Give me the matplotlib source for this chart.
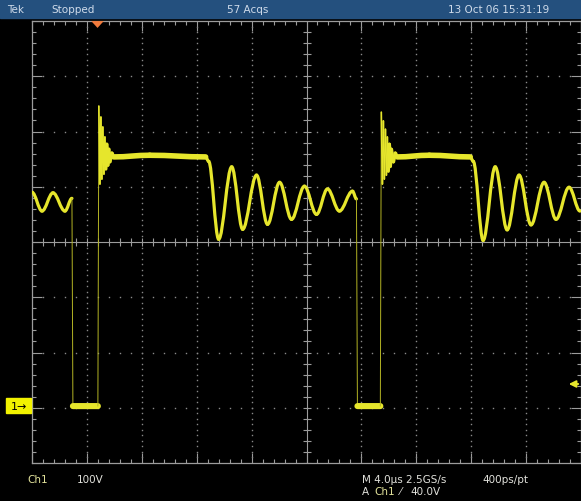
import numpy as np
import matplotlib
matplotlib.use("Agg")
import matplotlib.pyplot as plt
from matplotlib.patches import Rectangle, PathPatch
from matplotlib.path import Path

# --- scope settings ---
time_per_div = 4.0       # us / div
volts_per_div = 100.0    # V / div
n_xdiv, n_ydiv = 10, 8
gnd_offset_div = -2.97   # ch1 ground marker, divisions below centre
trig_time = 4.73         # us from left edge (orange marker)
trig_level = 40.0        # V

# --- ch1 trace vertices (time in us from left edge, volts) ---
t_us = [0.00, 0.73, 1.53, 2.40, 2.91, 2.98, 4.80,
        4.87, 4.95, 5.02, 5.09, 5.16, 5.24, 5.31, 5.38, 5.45, 5.53, 5.60, 5.67, 5.82, 5.96,
        8.58, 12.65, 12.87, 13.60,
        14.55, 15.35, 16.36, 17.16, 18.04, 18.91, 19.85, 20.73, 21.53, 22.40, 23.35, 23.64,
        23.71, 25.38,
        25.45, 25.53, 25.60, 25.67, 25.75, 25.82, 25.89, 25.96, 26.04, 26.11, 26.18, 26.33,
        26.47, 26.62,
        28.95, 31.93, 32.15, 32.87,
        33.75, 34.62, 35.49, 36.36, 37.31, 38.18, 39.13, 39.93]
v_volts = [387, 353, 386, 353, 376, 0, 0,
           543, 402, 523, 411, 505, 420, 487, 429, 474, 436, 465, 442, 458, 451,
           454, 451, 443, 302,
           433, 320, 418, 329, 405, 338, 398, 347, 393, 353, 389, 375,
           0, 0,
           532, 402, 516, 411, 501, 418, 487, 425, 474, 434, 465, 442,
           458, 451,
           454, 451, 443, 300,
           433, 319, 418, 328, 405, 338, 396, 353]

# --- screen readouts ---
top_labels = [("Tek", 7), ("Stopped", 51), ("57 Acqs", 227), ("13 Oct 06 15:31:19", 448)]
ch_label, ch_scale = "Ch1", "100V"
timebase = "M 4.0\u00b5s 2.5GS/s"
rec_len = "400ps/pt"
trig_src, trig_val = "Ch1", "40.0V"

W, H = 581, 502
fonts = ["Liberation Sans Narrow", "DejaVu Sans"]
grid_c = "#9c9c9c"
trace_c = "#e6e62c"
txt_c = "#e2e2dc"

fig = plt.figure(figsize=(W / 100, H / 100), dpi=100, facecolor="black")


def ftxt(px, py, s, color, size=7.5, **kw):
    fig.text(px / W, 1 - py / H, s, color=color, fontsize=size, family=fonts,
             va="center", ha="left", **kw)


# top status bar
fig.add_artist(Rectangle((0, 1 - 19 / H), 1, 19 / H, transform=fig.transFigure,
                         color="#24507e", zorder=0))
for s, px in top_labels:
    ftxt(px, 10, s, "#cfdbea")

ax = fig.add_axes([32 / W, 1 - 464 / H, 549 / W, 442 / H])
ax.set_facecolor("black")
t_max = n_xdiv * time_per_div
v_mid = -gnd_offset_div * volts_per_div
y0 = v_mid - n_ydiv / 2 * volts_per_div
y1 = v_mid + n_ydiv / 2 * volts_per_div
ax.set_xlim(0, t_max)
ax.set_ylim(y0, y1)
vpp = (y1 - y0) / 442.0   # volts per pixel
tpp = t_max / 549.0       # us per pixel

# graticule: dotted division lines
for k in range(1, n_xdiv):
    if k == n_xdiv // 2:
        continue
    yy = np.arange(y0, y1, volts_per_div / 10)
    ax.plot(np.full_like(yy, k * time_per_div), yy, ls="none", marker="s",
            ms=1.0, mew=0, color="#8a8a8a")
for k in range(1, n_ydiv):
    if k == n_ydiv // 2:
        continue
    xx = np.arange(0, t_max, time_per_div / 5)
    ax.plot(xx, np.full_like(xx, y0 + k * volts_per_div), ls="none", marker="s",
            ms=1.0, mew=0, color="#8a8a8a")

# centre cross with small ticks
ax.axhline(v_mid, color=grid_c, lw=0.8)
ax.axvline(t_max / 2, color=grid_c, lw=0.8)
mx = np.arange(0, t_max, time_per_div / 5)
my = np.arange(y0, y1, volts_per_div / 5)
ax.vlines(mx, v_mid - 4 * vpp, v_mid + 4 * vpp, color=grid_c, lw=0.8)
ax.hlines(my, t_max / 2 - 4 * tpp, t_max / 2 + 4 * tpp, color=grid_c, lw=0.8)

# frame ticks
ax.set_xticks(np.arange(0, t_max + 0.01, time_per_div))
ax.set_xticks(np.arange(0, t_max + 0.01, time_per_div / 5), minor=True)
ax.set_yticks(np.arange(y0, y1 + 0.01, volts_per_div))
ax.set_yticks(np.arange(y0, y1 + 0.01, volts_per_div / 5), minor=True)
ax.tick_params(which="both", direction="in", top=True, right=True,
               labelbottom=False, labelleft=False, color=grid_c, width=0.8)
ax.tick_params(which="major", length=7)
ax.tick_params(which="minor", length=3.2)
for sp in ax.spines.values():
    sp.set_color(grid_c)
    sp.set_linewidth(0.9)

# trace: straight thin strokes on fast edges, smooth curves between the
# peaks/troughs of the ringing, thick noise band on the flat parts
t = np.array(t_us)
v = np.array(v_volts, dtype=float)
for i in range(len(t) - 1):
    ta, tb, va, vb = t[i], t[i + 1], v[i], v[i + 1]
    dt = tb - ta
    slope = abs(vb - va) / dt
    if slope > 4000:
        ax.plot([ta, tb], [va, vb], color="#b4b424", lw=0.7, zorder=4,
                solid_capstyle="round")
        continue
    if slope > 800:
        ax.plot([ta, tb], [va, vb], color=trace_c, lw=1.2, zorder=4,
                solid_capstyle="round")
        continue
    if abs(va) < 5 and abs(vb) < 5:
        w = 4.4
    elif dt > 1.0 and va > 440 and vb > 440:
        w = 4.0
    else:
        w = 2.3
    k = 0.36 * dt
    path = Path([(ta, va), (ta + k, va), (tb - k, vb), (tb, vb)],
                [Path.MOVETO, Path.CURVE4, Path.CURVE4, Path.CURVE4])
    ax.add_patch(PathPatch(path, fill=False, edgecolor=trace_c, lw=w,
                           capstyle="round", zorder=4))

# trigger position marker (top) and trigger level arrow (right)
ax.plot([trig_time], [y1 - 2.6 * vpp], marker=[(-1, 0.55), (1, 0.55), (0, -0.55)],
        ms=9, color="#f07a3c", mew=0, clip_on=False, zorder=6)
ax.annotate("", xy=(t_max - 15 * tpp, trig_level), xytext=(t_max, trig_level),
            arrowprops=dict(arrowstyle="-|>", color=trace_c, lw=1.4,
                            mutation_scale=10),
            annotation_clip=False)

# ch1 ground marker
fig.add_artist(Rectangle((6 / W, 1 - 414 / H), 25 / W, 15 / H,
                         transform=fig.transFigure, color="#f2f200", zorder=5))
fig.text(11 / W, 1 - 407 / H, "1\u2192", color="black", fontsize=8,
         family=["DejaVu Sans"], va="center", ha="left", zorder=6)

# bottom readouts
ftxt(27, 480, ch_label, "#e2e29a")
ftxt(77, 480, ch_scale, txt_c)
ftxt(362, 480, timebase, txt_c)
ftxt(482, 480, rec_len, txt_c)
ftxt(362, 492, "A", txt_c)
ftxt(374, 492, trig_src, "#e2e29a")
ftxt(400, 492, "\u2044", txt_c)
ftxt(410, 492, trig_val, txt_c)

fig.savefig("out.png", dpi=100, facecolor="black")
